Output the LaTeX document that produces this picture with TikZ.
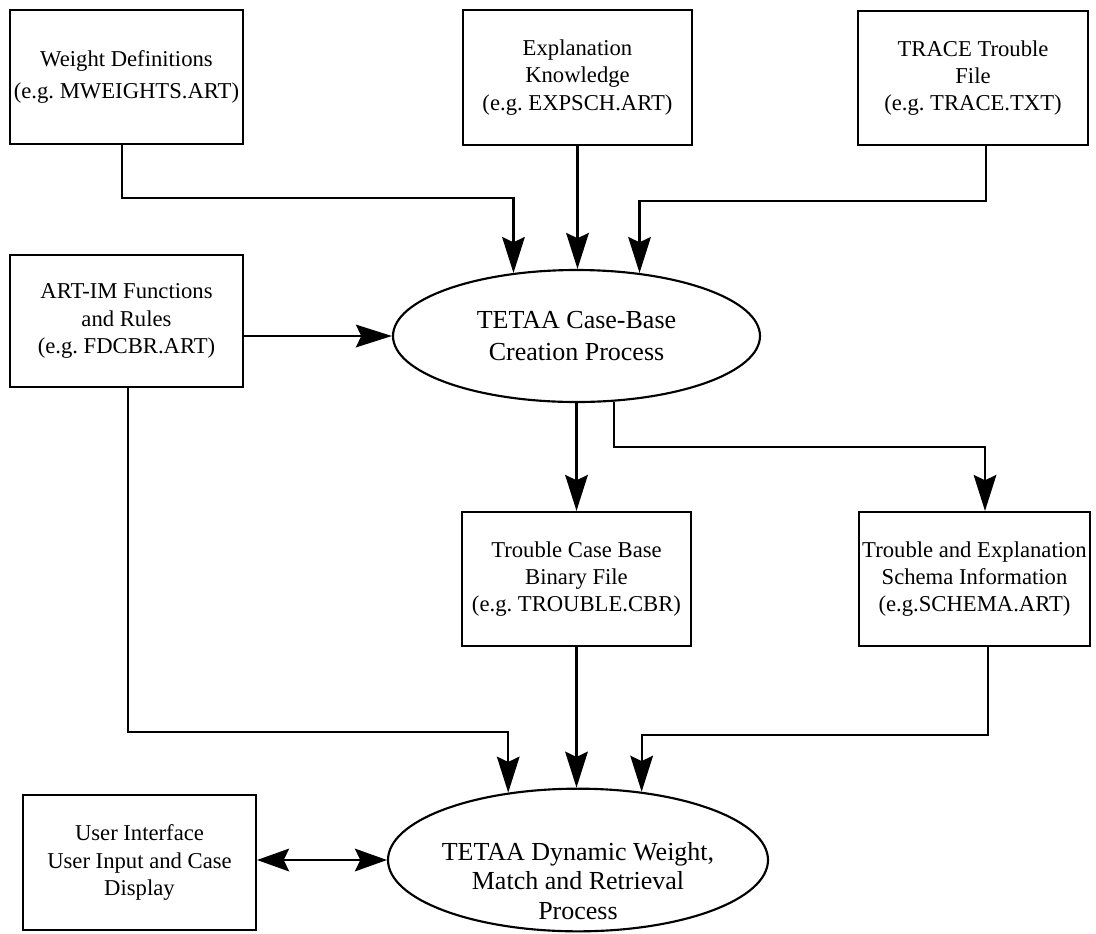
\documentclass[tikz,border=0pt]{standalone}
\usepackage{fontspec}
\setmainfont{Liberation Serif}
\usetikzlibrary{shapes.geometric,arrows.meta,calc}
\begin{document}
\frenchspacing
\begin{tikzpicture}[x=0.75pt,y=-0.75pt,
  filebox/.style={draw, line width=1.6pt, align=center, inner sep=0pt,
    font=\fontsize{17}{20.5}\selectfont},
  proc/.style={draw, ellipse, line width=1.6pt, inner sep=0pt},
  proctext/.style={align=center, font=\fontsize{19.5}{23.5}\selectfont},
  link/.style={line width=1.6pt, -{Stealth[length=27pt,width=17pt,inset=4pt]}},
  twoway/.style={line width=1.6pt,
    {Stealth[length=24pt,width=17pt,inset=4pt]}-{Stealth[length=24pt,width=17pt,inset=4pt]}}
]
\useasboundingbox (0,0) rectangle (1096,933);

% input files
\node[filebox, minimum width=174.75pt, minimum height=100.5pt] (wd) at (126.5,77)
  {Weight Definitions\\[3pt](e.g. MWEIGHTS.ART)};
\node[filebox, minimum width=171.75pt, minimum height=101.25pt] (ek) at (577.5,77.5)
  {Explanation\\Knowledge\\(e.g. EXPSCH.ART)};
\node[filebox, minimum width=172.5pt, minimum height=100.5pt] (tr) at (973,78)
  {TRACE Trouble\\File\\(e.g. TRACE.TXT)};
\node[filebox, minimum width=174.75pt, minimum height=99pt] (art) at (126.5,321)
  {ART-IM Functions\\and Rules\\(e.g. FDCBR.ART)};

% case-base creation
\node[proc, proctext, minimum width=275.25pt, minimum height=99pt] (e1) at (576.5,336)
  {TETAA Case-Base\\Creation Process};

% generated files
\node[filebox, minimum width=171.75pt, minimum height=100.5pt] (tcb) at (576.5,579)
  {Trouble Case Base\\Binary File\\(e.g. TROUBLE.CBR)};
\node[filebox, minimum width=173.25pt, minimum height=100.5pt] (sch) at (974.5,579)
  {Trouble and Explanation\\Schema Information\\(e.g.SCHEMA.ART)};

% run-time process and user interface
\node[filebox, minimum width=174.75pt, minimum height=101.25pt] (ui) at (139.5,862.5)
  {User Interface\\User Input and Case\\Display};
\node[proc, minimum width=285pt, minimum height=107pt] (e2) at (578,860) {};
\node[proctext, font=\fontsize{19.5}{22}\selectfont] (e2t) at (578,881)
  {TETAA Dynamic Weight,\\Match and Retrieval\\Process};

% connectors into the creation process
\draw[link] ($(wd.south)+(-4.5,0)$) |- ($(e1.135)+(0,-75)$) -- (e1.135);
\draw[link] (ek.south) -- (ek.south |- e1.north);
\draw[link] ($(tr.south)+(13,0)$) |- ($(e1.45)+(0,-72)$) -- (e1.45);
\draw[link] (art.east |- e1.west) -- (e1.west);

% outputs of the creation process
\draw[link] (e1.south) -- (tcb.north);
\draw[link] (e1.-60) |- ($(sch.north)+(10.5,-64)$) -- ($(sch.north)+(10.5,0)$);

% inputs of the run-time process
\draw[link] ($(art.south)+(1.5,0)$) |- ($(e2.136)+(0,-61)$) -- (e2.136);
\draw[link] (tcb.south) -- (tcb.south |- e2.north);
\draw[link] ($(sch.south)+(13.5,0)$) |- ($(e2.47)+(0,-57)$) -- (e2.47);

% user interaction
\draw[twoway] (ui.east |- e2.west) -- (e2.west);
\end{tikzpicture}
\end{document}
